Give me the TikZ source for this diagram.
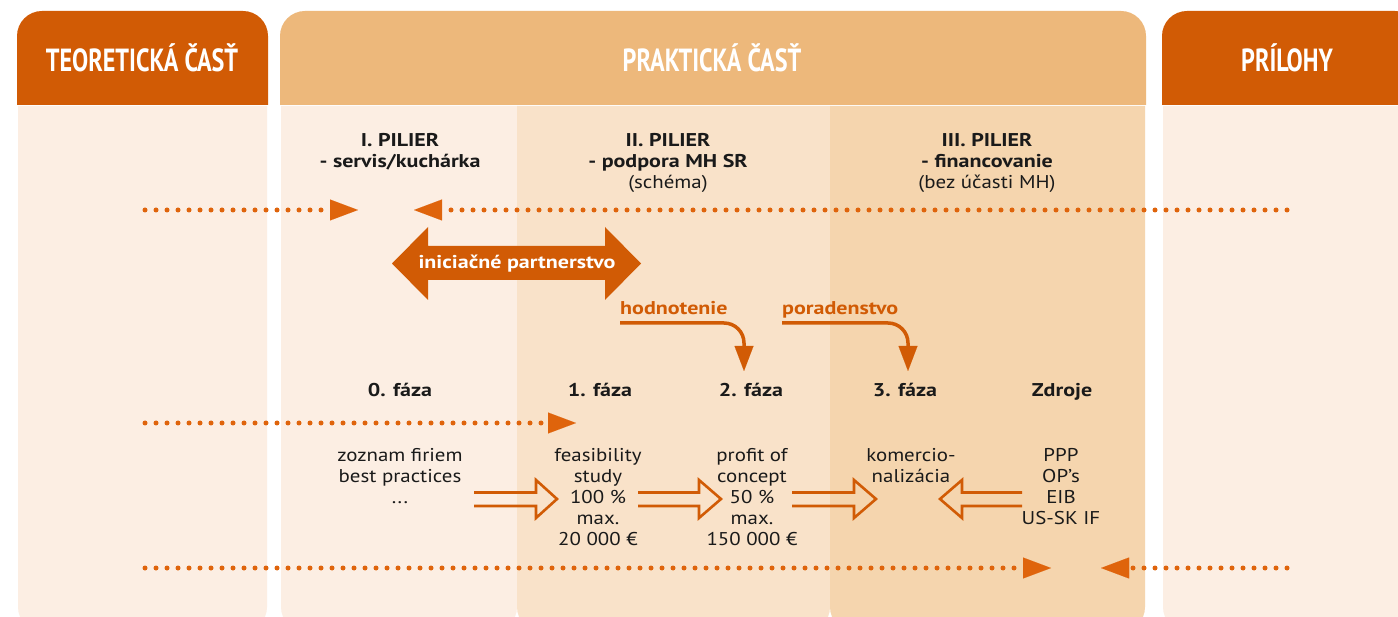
\documentclass[tikz,border=0pt]{standalone}
\usepackage{fontspec}
\setmainfont{PT Sans}[FakeStretch=1.13, BoldFeatures={FakeStretch=1.19}]
\newfontfamily\headfont{PT Sans}[FakeStretch=0.755, BoldFeatures={FakeStretch=0.755}]
\usetikzlibrary{arrows.meta}
\definecolor{dark}{HTML}{D15B05}
\definecolor{hdrlight}{HTML}{EDB87B}
\definecolor{bgA}{HTML}{FCEEE3}
\definecolor{bgB}{HTML}{F9E2C9}
\definecolor{bgC}{HTML}{F5D5AE}
\definecolor{dotc}{HTML}{DF640C}
\definecolor{ink}{HTML}{1A1A1A}
\begin{document}
\begin{tikzpicture}[x=1pt,y=-1pt,
  hdr/.style={font=\headfont\bfseries\fontsize{32}{32}\selectfont, text=white, anchor=base, inner sep=0},
  lbl/.style={font=\bfseries\fontsize{18.5}{21}\selectfont, align=center, text=ink, anchor=north, inner sep=0},
  phase/.style={font=\bfseries\fontsize{18.5}{21}\selectfont, text=ink, anchor=base, inner sep=0},
  txt/.style={font=\fontsize{18.5}{21}\selectfont, align=center, text=ink, anchor=north, inner sep=0},
  orlbl/.style={font=\bfseries\fontsize{18.5}{21}\selectfont, text=dark, anchor=base west, inner sep=0},
  dots/.style={dotc, line width=5pt, line cap=round, dash pattern=on 0pt off 11pt},
  dothead/.style={-{Triangle[length=28pt,width=21pt,line width=0.01pt]}},
  hollow/.style={dark, line width=2.6pt, line join=miter},
  bendarrow/.style={dark, line width=3.5pt, rounded corners=20pt, -{Triangle[length=25pt,width=19pt,line width=0.01pt]}}
]
\useasboundingbox (0,0) rectangle (1398,617);
\clip (0,0) rectangle (1398,617);
\fill[white] (0,0) rectangle (1398,617);

% headers
\fill[dark] (17,105) [rounded corners=25pt] -- (17,11) -- (268,11) [sharp corners] -- (268,105) -- cycle;
\fill[hdrlight] (280,105) [rounded corners=25pt] -- (280,11) -- (1146,11) [sharp corners] -- (1146,105) -- cycle;
\fill[dark] (1162,105) [rounded corners=25pt] -- (1162,11) -- (1420,11) [sharp corners] -- (1420,105) -- cycle;

% bodies
\fill[bgA] (18,106) [rounded corners=25pt] -- (18,632) -- (267,632) [sharp corners] -- (267,106) -- cycle;
\fill[bgA] (281,106) [rounded corners=25pt] -- (281,632) -- (517,632) [sharp corners] -- (517,106) -- cycle;
\fill[bgB] (517,106) [rounded corners=25pt] -- (517,632) -- (830,632) [sharp corners] -- (830,106) -- cycle;
\fill[bgC] (830,106) [rounded corners=25pt] -- (830,632) -- (1145,632) [sharp corners] -- (1145,106) -- cycle;
\fill[bgA] (1163,106) [rounded corners=25pt] -- (1163,632) -- (1420,632) [sharp corners] -- (1420,106) -- cycle;

% header texts
\node[hdr] (teo) at (142,72) {TEORETICKÁ ČASŤ};
\node[hdr] (prak) at (712,72) {PRAKTICKÁ ČASŤ};
\node[hdr] (pril) at (1287,72) {PRÍLOHY};

% pillars
\node[lbl] (p1) at (400,133) {I. PILIER\\- servis/kuchárka};
\node[lbl] (p2) at (668,133) {II. PILIER\\- podpora MH SR\\\mdseries(schéma)};
\node[lbl] (p3) at (987,133) {III. PILIER\\- financovanie\\\mdseries(bez účasti MH)};

% top dotted lines
\coordinate (t0) at (145,210);
\coordinate (t1) at (358,210);
\coordinate (t2) at (1287,210);
\coordinate (t3) at (414,210);
\draw[dots,dothead] (t0) -- (t1);
\draw[dots,dothead] (t2) -- (t3);

% initiation partnership double arrow
\fill[dark] (392,263.5) -- (428,227) -- (428,246) -- (605,246) -- (605,227) -- (641,263.5)
  -- (605,300) -- (605,280) -- (428,280) -- (428,300) -- cycle;
\node[font=\bfseries\fontsize{18.5}{21}\selectfont, text=white, anchor=base, inner sep=0] (part) at (517,269) {iniciačné partnerstvo};

% hodnotenie / poradenstvo
\node[orlbl] (hod) at (620,315) {hodnotenie};
\node[orlbl] (por) at (782,315) {poradenstvo};
\coordinate (h0) at (620,323);
\coordinate (h1) at (744,371);
\coordinate (r0) at (782,323);
\coordinate (r1) at (908,371);
\draw[bendarrow] (h0) -| (h1);
\draw[bendarrow] (r0) -| (r1);

% phases
\node[phase] (f0) at (400,397) {0. fáza};
\node[phase] (f1) at (600,397) {1. fáza};
\node[phase] (f2) at (751,397) {2. fáza};
\node[phase] (f3) at (905,397) {3. fáza};
\node[phase] (zd) at (1062,397) {Zdroje};

% middle dotted line
\coordinate (m0) at (145,423);
\coordinate (m1) at (576,423);
\draw[dots,dothead] (m0) -- (m1);

% phase contents
\node[txt] (c0) at (400,448.5) {zoznam firiem\\best practices\\...};
\node[txt] (c1) at (598,448.5) {feasibility\\study\\100 \%\\max.\\20 000 €};
\node[txt] (c2) at (752,448.5) {profit of\\concept\\50 \%\\max.\\150 000 €};
\node[txt] (c3) at (911,448.5) {komercio-\\nalizácia};
\node[txt] (c4) at (1061,448.5) {PPP\\OP’s\\EIB\\US-SK IF};

% hollow arrows
\draw[hollow] (474,492.5) -- (536,492.5) -- (536,480) -- (557,499) -- (536,518) -- (536,506) -- (474,506);
\draw[hollow] (638,492.5) -- (699,492.5) -- (699,480) -- (721,499) -- (699,518) -- (699,506) -- (638,506);
\draw[hollow] (792,492.5) -- (854,492.5) -- (854,480) -- (876,499) -- (854,518) -- (854,506) -- (792,506);
\draw[hollow] (1022,492.5) -- (962,492.5) -- (962,480) -- (940,499) -- (962,518) -- (962,506) -- (1022,506);

% bottom dotted lines
\coordinate (b0) at (145,568);
\coordinate (b1) at (1051,568);
\coordinate (b2) at (1287,568);
\coordinate (b3) at (1101,568);
\draw[dots,dothead] (b0) -- (b1);
\draw[dots,dothead] (b2) -- (b3);
\end{tikzpicture}
\end{document}
